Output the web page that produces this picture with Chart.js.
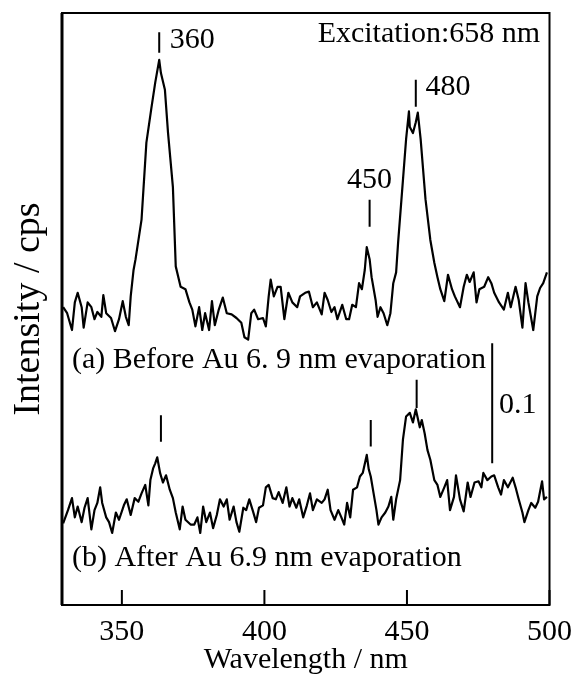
<!DOCTYPE html>
<html><head><meta charset="utf-8">
<script src="https://cdn.jsdelivr.net/npm/chart.js@4.4.1/dist/chart.umd.min.js"></script>
<style>html,body{margin:0;padding:0;background:#fff;} #wrap{width:584px;height:684px;}</style>
</head><body><div id="wrap"><canvas id="c" width="584" height="684"></canvas></div>
<script>
// ---- data (wavelength / nm, intensity in arbitrary units, 0.1 = scale bar) ----
const waveA = [329.4,330.8,332.5,333.5,334.5,335.9,336.6,338.0,339.3,340.4,
341.4,342.8,343.5,344.5,346.2,347.6,349.0,350.3,351.4,352.4,
353.1,354.1,354.8,356.9,358.6,360.3,361.7,363.1,363.7,365.1,
366.2,367.9,368.9,370.6,372.3,373.7,374.7,375.8,377.1,378.2,
379.2,380.6,381.6,382.6,384.0,385.4,386.8,388.5,390.2,391.9,
393.0,394.3,395.4,396.4,397.8,399.5,400.5,401.5,402.2,403.3,
404.6,405.7,407.0,408.4,409.8,411.5,412.5,414.3,415.6,417.0,
418.4,420.1,421.1,422.2,423.5,424.6,425.6,427.3,428.7,429.7,
430.8,432.1,433.2,434.2,435.2,435.9,436.9,437.6,439.0,439.7,
440.7,441.8,443.1,444.2,445.2,446.2,446.9,448.6,449.7,450.7,
451.0,452.1,453.1,453.8,454.8,456.5,458.2,459.6,460.7,461.7,
463.1,464.4,465.8,466.8,468.6,469.9,471.0,472.0,473.4,474.4,
475.4,477.1,478.5,479.6,480.6,482.3,484.0,485.4,486.4,488.1,
489.2,490.5,491.6,492.6,494.3,495.7,496.7,497.8,499.1];
const intensityA = [0.248,0.243,0.229,0.252,0.260,0.248,0.231,0.252,0.248,0.238,
0.244,0.240,0.258,0.243,0.239,0.228,0.238,0.253,0.240,0.233,
0.257,0.279,0.288,0.321,0.385,0.413,0.435,0.454,0.443,0.429,
0.393,0.348,0.282,0.265,0.263,0.252,0.246,0.232,0.248,0.229,
0.243,0.229,0.253,0.233,0.246,0.256,0.243,0.242,0.239,0.235,
0.223,0.221,0.243,0.246,0.238,0.239,0.232,0.257,0.271,0.257,
0.265,0.265,0.238,0.260,0.252,0.248,0.257,0.260,0.261,0.248,
0.252,0.242,0.260,0.254,0.244,0.248,0.238,0.250,0.238,0.238,
0.250,0.248,0.268,0.263,0.279,0.298,0.288,0.273,0.254,0.240,
0.248,0.243,0.233,0.243,0.268,0.277,0.302,0.354,0.388,0.411,
0.398,0.393,0.402,0.410,0.388,0.338,0.304,0.285,0.273,0.263,
0.253,0.275,0.263,0.257,0.248,0.265,0.275,0.269,0.277,0.252,
0.263,0.265,0.273,0.268,0.260,0.252,0.246,0.260,0.248,0.265,
0.254,0.231,0.268,0.252,0.229,0.257,0.264,0.268,0.277];
const waveB = [329.4,331.1,332.5,333.5,334.5,335.9,336.9,338.0,339.3,340.4,
341.4,342.4,343.1,344.5,345.5,346.6,347.9,349.0,350.7,351.7,
353.1,354.5,355.8,356.9,358.2,359.3,360.0,361.0,361.7,362.4,
363.4,364.4,365.5,366.8,367.9,368.9,370.3,371.3,372.3,374.1,
375.4,376.5,377.5,378.5,379.6,380.9,382.0,383.3,384.4,385.7,
386.8,387.8,389.2,390.2,391.2,392.6,393.6,394.7,396.0,397.1,
398.1,399.5,400.5,401.5,402.9,404.0,405.0,406.4,407.7,408.8,
409.8,411.2,412.2,413.6,414.9,416.0,417.0,418.4,420.1,421.1,
422.2,423.2,424.6,425.9,427.0,428.0,429.0,430.1,431.1,432.5,
433.5,434.5,435.9,436.6,437.3,438.3,439.3,440.0,441.1,442.4,
443.5,444.5,445.2,446.2,447.6,448.6,449.7,451.0,452.1,453.1,
454.5,455.2,456.2,457.2,458.2,459.6,460.7,461.7,463.1,464.1,
465.1,466.5,467.2,468.6,469.9,471.3,472.3,473.7,475.1,476.1,
476.8,478.2,479.6,480.6,482.0,483.0,484.0,485.4,487.1,488.1,
489.2,490.5,491.2,492.6,493.6,495.0,496.0,497.4,498.1,499.1];
const intensityB = [0.068,0.079,0.089,0.073,0.082,0.069,0.081,0.089,0.063,0.079,
0.085,0.098,0.085,0.073,0.069,0.060,0.077,0.071,0.083,0.088,
0.075,0.089,0.086,0.093,0.100,0.083,0.104,0.114,0.118,0.123,
0.110,0.102,0.108,0.096,0.089,0.077,0.063,0.082,0.071,0.067,
0.067,0.073,0.060,0.082,0.069,0.077,0.064,0.075,0.088,0.082,
0.088,0.071,0.082,0.069,0.061,0.081,0.079,0.088,0.078,0.069,
0.081,0.083,0.098,0.100,0.089,0.088,0.094,0.085,0.098,0.082,
0.089,0.081,0.088,0.073,0.083,0.093,0.079,0.088,0.085,0.088,
0.096,0.079,0.071,0.079,0.073,0.067,0.085,0.073,0.096,0.098,
0.107,0.110,0.125,0.113,0.107,0.093,0.079,0.067,0.073,0.077,
0.082,0.090,0.071,0.088,0.104,0.138,0.157,0.160,0.152,0.163,
0.148,0.154,0.143,0.129,0.121,0.104,0.100,0.090,0.098,0.104,
0.079,0.090,0.108,0.088,0.078,0.102,0.090,0.102,0.103,0.098,
0.110,0.104,0.107,0.108,0.098,0.092,0.104,0.098,0.106,0.098,
0.088,0.077,0.069,0.079,0.085,0.081,0.086,0.103,0.088,0.090];
const xTicks = [350, 400, 450, 500];
const xRange = [329, 500];
const yRange = [0, 0.493];

// peak markers and labels (data coordinates)
const peakMarks = [
  {x:363.1, y0:0.460, y1:0.477}, {x:436.9, y0:0.315, y1:0.3375}, {x:453.1, y0:0.415, y1:0.4375},
  {x:363.7, y0:0.136, y1:0.158}, {x:437.3, y0:0.132, y1:0.154}, {x:453.4, y0:0.164, y1:0.1875}
];
const scaleBar = {x:479.9, y0:0.118, y1:0.218};
const labels = [
  {text:'360', x:366.8, y:0.470, align:'left'},
  {text:'Excitation:658 nm', x:496.7, y:0.475, align:'right'},
  {text:'480', x:456.5, y:0.431, align:'left'},
  {text:'450', x:436.9, y:0.354, align:'center'},
  {text:'(a) Before Au 6. 9 nm evaporation', x:332.5, y:0.204, align:'left'},
  {text:'0.1', x:482.3, y:0.1667, align:'left'},
  {text:'(b) After Au 6.9 nm evaporation', x:332.5, y:0.039, align:'left'}
];

const FONT = "'Liberation Serif', 'Times New Roman', serif";
const toPts = (xs, ys) => xs.map((v, i) => ({x: v, y: ys[i]}));

const decor = {
  id: 'decor',
  afterDatasetsDraw(chart) {
    const {ctx, chartArea: a, scales: {x, y}} = chart;
    ctx.save();
    ctx.strokeStyle = '#000';
    ctx.lineWidth = 2;
    ctx.strokeRect(a.left, a.top, a.right - a.left, a.bottom - a.top);
    ctx.lineWidth = 3;
    ctx.beginPath(); ctx.moveTo(a.left, a.top); ctx.lineTo(a.left, a.bottom); ctx.stroke();
    ctx.lineWidth = 2;
    ctx.beginPath();
    x.ticks.forEach(t => {
      const px = x.getPixelForValue(t.value);
      ctx.moveTo(px, a.bottom); ctx.lineTo(px, a.bottom - 15);
    });
    peakMarks.concat([scaleBar]).forEach(m => {
      const px = x.getPixelForValue(m.x);
      ctx.moveTo(px, y.getPixelForValue(m.y0)); ctx.lineTo(px, y.getPixelForValue(m.y1));
    });
    ctx.stroke();
    ctx.fillStyle = '#000';
    ctx.font = '30px ' + FONT;
    ctx.textBaseline = 'middle';
    labels.forEach(l => {
      ctx.textAlign = l.align;
      ctx.fillText(l.text, x.getPixelForValue(l.x), y.getPixelForValue(l.y));
    });
    ctx.restore();
  }
};

new Chart(document.getElementById('c'), {
  type: 'line',
  data: {
    datasets: [
      {label: '(a)', data: toPts(waveA, intensityA), borderColor: '#000', borderWidth: 2.2, borderJoinStyle: 'round', pointRadius: 0, tension: 0},
      {label: '(b)', data: toPts(waveB, intensityB), borderColor: '#000', borderWidth: 2.2, borderJoinStyle: 'round', pointRadius: 0, tension: 0}
    ]
  },
  options: {
    responsive: false,
    animation: false,
    devicePixelRatio: 1,
    layout: {padding: {top: 13, right: 26, left: 0, bottom: 0}},
    plugins: {legend: {display: false}, tooltip: {enabled: false}},
    scales: {
      x: {
        type: 'linear', min: xRange[0], max: xRange[1],
        afterBuildTicks: s => { s.ticks = xTicks.map(v => ({value: v})); },
        afterFit: s => { s.height = 79; },
        grid: {display: false, drawTicks: false},
        border: {display: false},
        ticks: {color: '#000', font: {family: FONT, size: 30, lineHeight: 1}, padding: 12, maxRotation: 0, autoSkip: false},
        title: {display: true, text: 'Wavelength / nm', color: '#000', font: {family: FONT, size: 30, lineHeight: 1}, padding: {top: 0, bottom: 9}}
      },
      y: {
        type: 'linear', min: yRange[0], max: yRange[1],
        afterFit: s => { s.width = 62; },
        grid: {display: false, drawTicks: false},
        border: {display: false},
        ticks: {display: false},
        title: {display: true, text: 'Intensity / cps', color: '#000', font: {family: FONT, size: 38, lineHeight: 1}, padding: {top: 10, bottom: 0}}
      }
    }
  },
  plugins: [decor]
});
</script>
</body></html>
